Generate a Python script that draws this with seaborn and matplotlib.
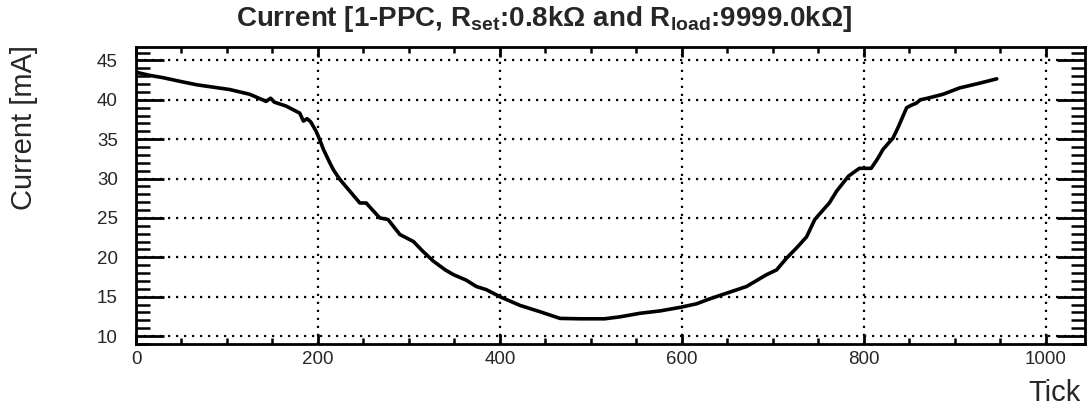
import seaborn as sns
import matplotlib.pyplot as plt
import pandas as pd
from matplotlib.ticker import MultipleLocator

# values
tick = [0, 15, 30, 50, 67, 85, 103, 125, 135, 143, 148, 152, 165, 180, 184, 188,
        192, 198, 202, 206, 213, 217, 224, 235, 246, 253, 260, 268, 277, 290, 305,
        315, 327, 340, 349, 363, 374, 385, 400, 422, 444, 466, 488, 515, 532, 554,
        576, 598, 616, 631, 653, 671, 693, 704, 715, 726, 737, 746, 752, 762, 770,
        783, 795, 808, 815, 821, 832, 838, 847, 852, 858, 862, 870, 887, 905, 927, 946]
current = [43.5, 43.1, 42.8, 42.3, 41.9, 41.6, 41.3, 40.7, 40.2, 39.8, 40.2, 39.7,
           39.2, 38.3, 37.3, 37.6, 37.2, 36.0, 34.9, 33.7, 32.0, 31.1, 29.9, 28.4,
           26.9, 26.9, 26.0, 25.0, 24.8, 22.9, 22.0, 20.8, 19.5, 18.4, 17.8, 17.1,
           16.3, 15.9, 15.0, 13.9, 13.1, 12.25, 12.2, 12.2, 12.45, 12.9, 13.2, 13.65,
           14.1, 14.75, 15.6, 16.3, 17.8, 18.4, 19.9, 21.2, 22.6, 24.8, 25.6, 26.9,
           28.4, 30.3, 31.3, 31.3, 32.5, 33.7, 35.15, 36.6, 39.0, 39.3, 39.6, 40.0,
           40.2, 40.7, 41.5, 42.1, 42.66]

df = pd.DataFrame({'Tick': tick, 'Current': current})

sns.set_style('ticks')
plt.rcParams['font.family'] = ['Liberation Sans', 'DejaVu Sans']
plt.rcParams['mathtext.fontset'] = 'custom'
plt.rcParams['mathtext.rm'] = 'Liberation Sans:bold'
plt.rcParams['mathtext.bf'] = 'Liberation Sans:bold'
plt.rcParams['mathtext.it'] = 'Liberation Sans:bold'

fig = plt.figure(figsize=(10.89, 4.11), dpi=100)
ax = fig.add_axes([136 / 1089, 1 - 344 / 411, (1085 - 136) / 1089, (344 - 47) / 411])

sns.lineplot(data=df, x='Tick', y='Current', ax=ax, color='black', linewidth=2.6)

ax.set_xlim(0, 1043)
ax.set_ylim(9.0, 46.7)
ax.xaxis.set_major_locator(MultipleLocator(200))
ax.xaxis.set_minor_locator(MultipleLocator(50))
ax.yaxis.set_major_locator(MultipleLocator(5))
ax.yaxis.set_minor_locator(MultipleLocator(1))

ax.grid(True, which='major', color='black', linestyle=(0, (1, 2.6)), linewidth=1.6)
for s in ax.spines.values():
    s.set_linewidth(2)
    s.set_color('black')

ax.tick_params(axis='both', which='both', direction='in', color='black',
               top=True, right=True, labelsize=13.5)
ax.tick_params(axis='y', which='major', length=20, width=2, pad=13)
ax.tick_params(axis='y', which='minor', length=10, width=1.8)
ax.tick_params(axis='x', which='major', length=7, width=2, pad=5)
ax.tick_params(axis='x', which='minor', length=4, width=1.8)

ax.set_xlabel('')
ax.set_ylabel('')
fig.text(1081 / 1089, 1 - 393 / 411, 'Tick', ha='right', va='center', fontsize=21)
fig.text(24 / 1089, 1 - 45 / 411, 'Current [mA]', ha='center', va='top',
         rotation=90, fontsize=21)
fig.text(0.5, 1 - 19 / 411,
         r'Current [1-PPC, R$_{\mathbf{set}}$:0.8kΩ and R$_{\mathbf{load}}$:9999.0kΩ]',
         ha='center', va='center', fontsize=20, fontweight='bold')

fig.savefig('out.png', dpi=100)
